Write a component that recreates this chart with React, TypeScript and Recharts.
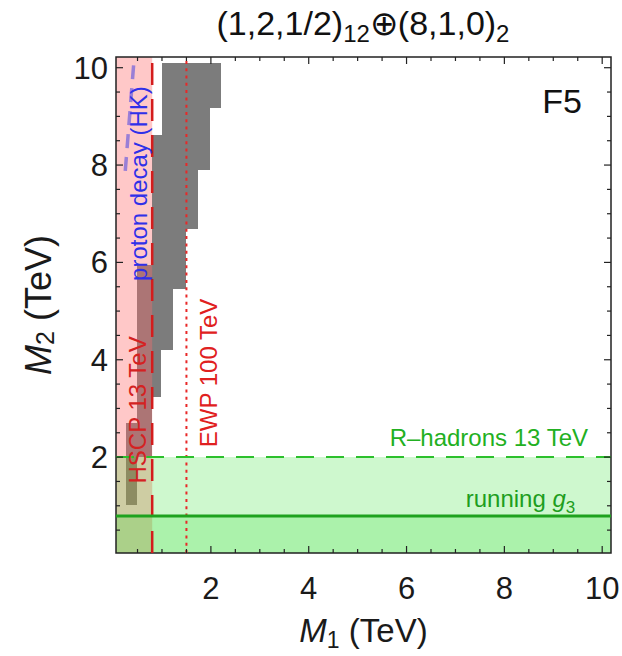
import React from 'react';
import { ComposedChart, XAxis, YAxis, ReferenceArea, ReferenceLine, ReferenceDot, Scatter } from 'recharts';

const FONT = "'Liberation Sans', Arial, Helvetica, sans-serif";

// layout
const CHART_W = 622;
const CHART_H = 656;
const MARGIN = { top: 57, right: 11, left: 0, bottom: 0 };
const X_AXIS_H = 103;
const Y_AXIS_W = 116;
const PLOT_TOP = MARGIN.top;
const PLOT_BOTTOM = CHART_H - MARGIN.bottom - X_AXIS_H;
const PLOT_LEFT = MARGIN.left + Y_AXIS_W;
const PLOT_RIGHT = CHART_W - MARGIN.right;

// axis ranges (TeV)
const X_DOMAIN: [number, number] = [0.06, 10.18];
const Y_DOMAIN: [number, number] = [0.03, 10.22];
const majorTicks = [2, 4, 6, 8, 10];
const minorTicks = [0.5, 1, 1.5, 2.5, 3, 3.5, 4.5, 5, 5.5, 6.5, 7, 7.5, 8.5, 9, 9.5];
const allTicks = [...minorTicks, ...majorTicks].sort((a, b) => a - b);

// gray (unification) region, stored as horizontal rows: M2 from..to, M1 from..to
const grayM2Low = [1.02, 2.0, 2.7, 3.24, 4.2, 5.45, 5.95, 6.68, 7.9, 8.62, 9.18];
const grayM2High = [2.0, 2.7, 3.24, 4.2, 5.45, 5.95, 6.68, 7.9, 8.62, 9.18, 10.1];
const grayM1Low = [0.27, 0.27, 0.48, 0.48, 0.48, 0.48, 0.8, 0.8, 0.8, 1.0, 1.0];
const grayM1High = [0.48, 0.8, 0.8, 0.975, 1.23, 1.49, 1.49, 1.745, 1.98, 1.98, 2.21];

// limits
const hscpM1 = 0.8; // HSCP 13 TeV
const ewpM1 = 1.5; // EWP 100 TeV
const rHadronM2 = 2.0; // R-hadrons 13 TeV
const runningG3M2 = 0.79; // running g3
const protonDecayM1 = [0.42, 0.245];
const protonDecayM2 = [10.05, 7.82];

// annotation anchors
const labelProton = { x: 0.51, y: 7.62 };
const labelHscp = { x: 0.5, y: 2.97 };
const labelEwp = { x: 1.96, y: 3.73 };
const labelRHad = { x: 9.71, y: 2.23 };
const labelG3 = { x: 9.45, y: 0.98 };
const labelPanel = { x: 9.18, y: 9.31 };

const grayRows = grayM2Low.map((lo, i) => ({ y1: lo, y2: grayM2High[i], x1: grayM1Low[i], x2: grayM1High[i] }));
const protonDecayLine = protonDecayM1.map((m1, i) => ({ m1, m2: protonDecayM2[i] }));

const INK = '#1a1a1a';
const TICK_STROKE = '#222';

const GrayRect = (p: any) => (
  <rect x={p.x} y={p.y} width={p.width} height={p.height} fill="#7c7c7c" shapeRendering="crispEdges" />
);

const XTick = (props: any) => {
  const { x, y, payload } = props;
  const v = payload.value;
  const major = majorTicks.includes(v);
  const len = major ? 7 : 4;
  return (
    <g>
      <line x1={x} x2={x} y1={PLOT_BOTTOM} y2={PLOT_BOTTOM - len} stroke={TICK_STROKE} strokeWidth={1.2} />
      <line x1={x} x2={x} y1={PLOT_TOP} y2={PLOT_TOP + len} stroke={TICK_STROKE} strokeWidth={1.2} />
      {major && (
        <text x={x} y={y} dy="0.71em" textAnchor="middle" fill={INK} fontSize={31} fontFamily={FONT}>{v}</text>
      )}
    </g>
  );
};

const YTick = (props: any) => {
  const { x, y, payload } = props;
  const v = payload.value;
  const major = majorTicks.includes(v);
  const len = major ? 7 : 4;
  return (
    <g>
      <line x1={PLOT_LEFT} x2={PLOT_LEFT + len} y1={y} y2={y} stroke={TICK_STROKE} strokeWidth={1.2} />
      <line x1={PLOT_RIGHT} x2={PLOT_RIGHT - len} y1={y} y2={y} stroke={TICK_STROKE} strokeWidth={1.2} />
      {major && (
        <text x={x} y={y} dy="0.355em" textAnchor="end" fill={INK} fontSize={31} fontFamily={FONT}>{v}</text>
      )}
    </g>
  );
};

const center = (props: any) => {
  const vb = props.viewBox || {};
  return { cx: (vb.x || 0) + (vb.width || 0) / 2, cy: (vb.y || 0) + (vb.height || 0) / 2 };
};

const vertText = (text: string, color: string, size: number) => (props: any) => {
  const { cx, cy } = center(props);
  return (
    <text x={cx} y={cy} textAnchor="middle" dominantBaseline="central" fill={color} fontSize={size} fontFamily={FONT}
      transform={`rotate(-90 ${cx} ${cy})`}>{text}</text>
  );
};

const ProtonLabel = vertText('proton decay (HK)', '#3030e8', 24);
const HscpLabel = vertText('HSCP 13 TeV', '#d42222', 24);
const EwpLabel = vertText('EWP 100 TeV', '#e02020', 24);

const RHadLabel = (props: any) => {
  const { cx, cy } = center(props);
  return (
    <text x={cx} y={cy} textAnchor="end" fill="#22b022" fontSize={24} fontFamily={FONT}>R–hadrons 13 TeV</text>
  );
};

const G3Label = (props: any) => {
  const { cx, cy } = center(props);
  return (
    <text x={cx} y={cy} textAnchor="end" fill="#1e9e1e" fontSize={24} fontFamily={FONT}>
      running <tspan fontStyle="italic">g</tspan><tspan fontSize={17} dy={6}>3</tspan>
    </text>
  );
};

const PanelLabel = (props: any) => {
  const { cx, cy } = center(props);
  return (
    <text x={cx} y={cy} textAnchor="middle" dominantBaseline="central" fill="#111" fontSize={34} fontFamily={FONT}>F5</text>
  );
};

const XLabel = (props: any) => {
  const vb = props.viewBox || {};
  const cx = vb.x + vb.width / 2;
  const y = vb.y + 89;
  return (
    <text x={cx} y={y} textAnchor="middle" fill={INK} fontSize={33} fontFamily={FONT}>
      <tspan fontStyle="italic">M</tspan><tspan fontSize={23} dy={6}>1</tspan><tspan dy={-6}> (TeV)</tspan>
    </text>
  );
};

const YLabel = (props: any) => {
  const vb = props.viewBox || {};
  const cx = 38;
  const cy = vb.y + vb.height / 2;
  return (
    <text x={cx} y={cy} textAnchor="middle" dominantBaseline="central" fill={INK} fontSize={36} fontFamily={FONT}
      transform={`rotate(-90 ${cx} ${cy})`}>
      <tspan fontStyle="italic">M</tspan><tspan fontSize={25} dy={7}>2</tspan><tspan dy={-7}> (TeV)</tspan>
    </text>
  );
};

export default function App() {
  return (
    <div style={{ position: 'absolute', left: 0, top: 0, width: CHART_W, height: CHART_H, background: '#fff' }}>
      <ComposedChart width={CHART_W} height={CHART_H} margin={MARGIN}>
        <XAxis xAxisId="x" dataKey="m1" type="number" domain={X_DOMAIN} allowDataOverflow ticks={allTicks} interval={0}
          tickLine={false} axisLine={false} tickSize={0} tickMargin={24} height={X_AXIS_H}
          tick={XTick} label={{ content: XLabel }} />
        <YAxis yAxisId="y" dataKey="m2" type="number" domain={Y_DOMAIN} allowDataOverflow ticks={allTicks} interval={0}
          tickLine={false} axisLine={false} tickSize={0} tickMargin={8} width={Y_AXIS_W}
          tick={YTick} label={{ content: YLabel }} />

        {grayRows.map((r, i) => (
          <ReferenceArea key={`g${i}`} xAxisId="x" yAxisId="y" x1={r.x1} x2={r.x2} y1={r.y1} y2={r.y2}
            shape={GrayRect} />
        ))}
        <ReferenceArea xAxisId="x" yAxisId="y" x1={X_DOMAIN[0]} x2={hscpM1} y1={Y_DOMAIN[0]} y2={Y_DOMAIN[1]}
          fill="#ff6a6a" fillOpacity={0.37} stroke="none" />
        <Scatter xAxisId="x" yAxisId="y" data={protonDecayLine} dataKey="m2" isAnimationActive={false}
          shape={() => null} line={{ stroke: '#9a7fd6', strokeWidth: 3.5, strokeDasharray: '14 9' }} />
        <ReferenceLine xAxisId="x" yAxisId="y" x={hscpM1} stroke="#d41c1c" strokeWidth={2.5} strokeDasharray="22 14" />
        <ReferenceLine xAxisId="x" yAxisId="y" x={ewpM1} stroke="#e82828" strokeWidth={2} strokeDasharray="3 4.3" />
        <ReferenceArea xAxisId="x" yAxisId="y" x1={X_DOMAIN[0]} x2={X_DOMAIN[1]} y1={Y_DOMAIN[0]} y2={rHadronM2}
          fill="#22dd22" fillOpacity={0.22} stroke="none" />
        <ReferenceArea xAxisId="x" yAxisId="y" x1={X_DOMAIN[0]} x2={X_DOMAIN[1]} y1={Y_DOMAIN[0]} y2={runningG3M2}
          fill="#22dd22" fillOpacity={0.2} stroke="none" />
        <ReferenceLine xAxisId="x" yAxisId="y" y={rHadronM2} stroke="#2cc02c" strokeWidth={2} strokeDasharray="18 12" />
        <ReferenceLine xAxisId="x" yAxisId="y" y={runningG3M2} stroke="#1ea21e" strokeWidth={3} />
        <ReferenceArea xAxisId="x" yAxisId="y" x1={X_DOMAIN[0]} x2={X_DOMAIN[1]} y1={Y_DOMAIN[0]} y2={Y_DOMAIN[1]}
          fill="none" stroke="#222" strokeWidth={1.5} />

        <ReferenceDot xAxisId="x" yAxisId="y" x={labelProton.x} y={labelProton.y} r={0} fill="none" stroke="none" label={ProtonLabel} />
        <ReferenceDot xAxisId="x" yAxisId="y" x={labelHscp.x} y={labelHscp.y} r={0} fill="none" stroke="none" label={HscpLabel} />
        <ReferenceDot xAxisId="x" yAxisId="y" x={labelEwp.x} y={labelEwp.y} r={0} fill="none" stroke="none" label={EwpLabel} />
        <ReferenceDot xAxisId="x" yAxisId="y" x={labelRHad.x} y={labelRHad.y} r={0} fill="none" stroke="none" label={RHadLabel} />
        <ReferenceDot xAxisId="x" yAxisId="y" x={labelG3.x} y={labelG3.y} r={0} fill="none" stroke="none" label={G3Label} />
        <ReferenceDot xAxisId="x" yAxisId="y" x={labelPanel.x} y={labelPanel.y} r={0} fill="none" stroke="none" label={PanelLabel} />
      </ComposedChart>
      <svg width={CHART_W} height={56} style={{ position: 'absolute', left: 0, top: 0, pointerEvents: 'none' }}>
        <text x={363} y={35} textAnchor="middle" fill="#111" fontSize={34} fontFamily={FONT}>
          (1,2,1/2)<tspan fontSize={24} dy={7}>12</tspan><tspan dy={-7}>⊕(8,1,0)</tspan><tspan fontSize={24} dy={7}>2</tspan>
        </text>
      </svg>
    </div>
  );
}
